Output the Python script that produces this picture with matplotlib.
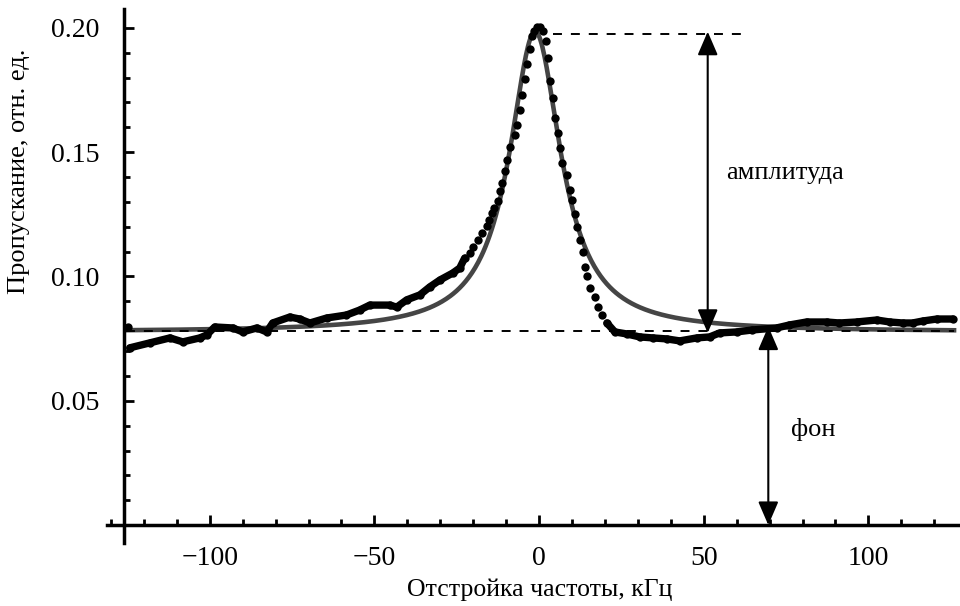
import numpy as np
from matplotlib import pyplot as plt
from matplotlib.ticker import MultipleLocator, FixedLocator

plt.rcParams['font.family'] = ['Liberation Serif', 'DejaVu Serif']

# measured points, left wing (dense, looks like a thick line)
left_x = [-124.9, -124.3, -118.2, -112.1, -108.2, -103.0, -100.9, -98.5, -93.0, -90.0,
          -85.7, -82.7, -80.9, -75.7, -72.7, -69.6, -64.5, -58.5, -54.5, -51.4,
          -45.4, -43.2, -40.2, -36.2, -33.2, -30.1, -26.2, -24.1, -22.6]
left_y = [0.0797, 0.0713, 0.0733, 0.0753, 0.0737, 0.0753, 0.0765, 0.0797, 0.0793, 0.0777,
          0.0793, 0.0777, 0.0813, 0.0837, 0.0829, 0.0813, 0.0833, 0.0845, 0.0865, 0.0885,
          0.0885, 0.0877, 0.0906, 0.0926, 0.0958, 0.0986, 0.1014, 0.1034, 0.1074]

# measured points around the resonance (separate dots)
peak_x = [-21.0, -20.0, -18.5, -17.2, -15.8, -15.2, -14.3, -13.7, -12.6, -11.9,
          -11.2, -10.4, -9.6, -8.9, -7.2, -6.6, -5.9, -5.2, -4.3, -3.6,
          -2.8, -2.3, -1.6, -0.7, 0.2, 1.1, 2.0, 2.6, 3.2, 4.1,
          4.8, 5.6, 6.3, 7.1, 8.5, 9.3, 10.1, 10.8, 11.5, 12.4,
          13.2, 13.9, 14.6, 15.4, 16.9, 17.8, 19.0]
peak_y = [0.1095, 0.1120, 0.1147, 0.1174, 0.1203, 0.1228, 0.1255, 0.1275, 0.1305, 0.1345,
          0.1375, 0.1426, 0.1469, 0.1520, 0.1569, 0.1610, 0.1670, 0.1730, 0.1793, 0.1855,
          0.1914, 0.1967, 0.1988, 0.2004, 0.2005, 0.1988, 0.1949, 0.1878, 0.1786, 0.1717,
          0.1637, 0.1576, 0.1516, 0.1456, 0.1409, 0.1348, 0.1308, 0.1252, 0.1201, 0.1147,
          0.1100, 0.1040, 0.1000, 0.0954, 0.0918, 0.0878, 0.0845]

# measured points, right wing
right_x = [20.6, 23.0, 26.6, 30.5, 34.5, 38.7, 42.7, 47.9, 51.8, 54.8,
           60.0, 64.8, 72.1, 76.0, 81.2, 87.3, 91.2, 96.4, 102.5, 106.5,
           110.4, 113.4, 116.5, 120.8, 125.6]
right_y = [0.0813, 0.0777, 0.0769, 0.0757, 0.0753, 0.0749, 0.0741, 0.0753, 0.0757, 0.0773,
           0.0777, 0.0785, 0.0793, 0.0805, 0.0817, 0.0817, 0.0813, 0.0817, 0.0825, 0.0817,
           0.0813, 0.0813, 0.0821, 0.0829, 0.0829]

# lorentz fit parameters
fon = 0.0777
amplituda = 0.1208
centr = -1.2
shirina = 9.5

# levels marked with dashed lines
uroven_fon = 0.0781
uroven_pik = 0.1975

fig, ax = plt.subplots(figsize=(9.6, 6.06), dpi=100)
ax.set_position([107 / 960, 1 - 543 / 606, 851 / 960, 534 / 606])
ax.set_xlim(-131.2, 127.2)
ax.set_ylim(-0.0072, 0.2076)

# fit curve
xf = np.linspace(-125.5, 126, 800)
yf = fon + amplituda / (1 + ((xf - centr) / shirina) ** 2)
ax.plot(xf, yf, color='#454545', lw=3.3, zorder=2)

# dashed levels
ax.plot([-125.5, 126], [uroven_fon, uroven_fon], color='black', lw=1.4,
        dashes=(4.6, 4.6), zorder=3)
ax.plot([4.3, 62.0], [uroven_pik, uroven_pik], color='black', lw=1.4,
        dashes=(4.6, 4.6), zorder=3)

# experimental data
ax.plot(left_x[1:], left_y[1:], color='black', lw=5.3, solid_capstyle='round',
        solid_joinstyle='round', zorder=4)
ax.plot(right_x, right_y, color='black', lw=5.3, solid_capstyle='round',
        solid_joinstyle='round', zorder=4)
for xs, ys in [(left_x, left_y), (peak_x, peak_y), (right_x, right_y)]:
    ax.plot(xs, ys, 'o', color='black', ms=6, mew=0, zorder=4)

# arrows
strelka = dict(arrowstyle='<|-|>,head_length=0.72,head_width=0.31',
               color='black', lw=1.5, shrinkA=0, shrinkB=0, mutation_scale=20)
ax.annotate('', xy=(51.2, 0.1985), xytext=(51.2, 0.0773), arrowprops=strelka, zorder=5)
ax.annotate('', xy=(69.6, 0.0799), xytext=(69.6, 0.0), arrowprops=strelka, zorder=5)

ax.text(56.8, 0.1417, 'амплитуда', fontsize=19, ha='left', va='center')
ax.text(76.5, 0.0383, 'фон', fontsize=19, ha='left', va='center')

# axes in the middle of the plot, Mathematica style
for spline in ['top', 'right']:
    ax.spines[spline].set_visible(False)
ax.spines['left'].set_position(('data', -126))
ax.spines['bottom'].set_position(('data', 0))
ax.spines['left'].set_linewidth(2.5)
ax.spines['bottom'].set_linewidth(2.5)

ax.xaxis.set_major_locator(MultipleLocator(50))
ax.xaxis.set_minor_locator(MultipleLocator(10))
ax.yaxis.set_major_locator(FixedLocator([0.05, 0.10, 0.15, 0.20]))
ax.yaxis.set_minor_locator(MultipleLocator(0.01))
ax.yaxis.set_major_formatter(lambda v, p: '%.2f' % v)

ax.tick_params(which='major', direction='in', length=7, width=2, labelsize=20)
ax.tick_params(axis='y', which='major', pad=18)
ax.tick_params(axis='x', which='major', pad=15)
ax.tick_params(which='minor', direction='in', length=4.5, width=2)

fig.text(540 / 960, 1 - 590 / 606, 'Отстройка частоты, кГц', fontsize=18.5,
         ha='center', va='center')
fig.text(19 / 960, 1 - 171 / 606, 'Пропускание, отн. ед.', fontsize=19,
         ha='center', va='center', rotation=90)

plt.savefig('out.png', dpi=100)
